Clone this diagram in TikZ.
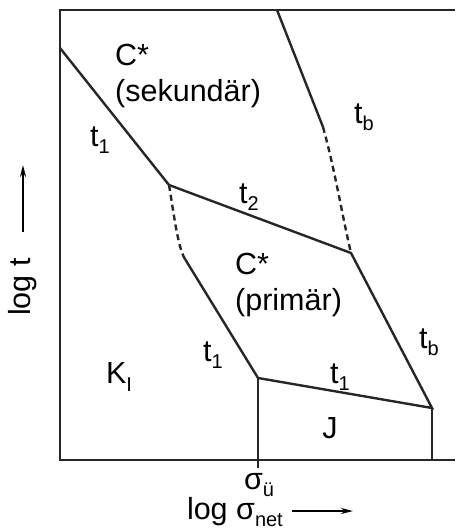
\documentclass[tikz,border=0pt]{standalone}
\usepackage{fontspec}
\setmainfont{Liberation Sans}
\usetikzlibrary{arrows.meta}

\newcommand{\sub}[1]{\raisebox{-0.45ex}{\fontsize{20}{21}\selectfont #1}}

\begin{document}
\begin{tikzpicture}[
  x=1pt, y=-1pt,
  lbl/.style={font=\fontsize{30.5}{36}\selectfont, inner sep=0pt, align=left},
  bd/.style={line width=2.8pt, draw=black!85},
  ln/.style={line width=2.4pt, draw=black!85},
  dsh/.style={line width=2.4pt, draw=black!85, dash pattern=on 6pt off 4pt},
  ax/.style={line width=1.8pt, -{Stealth[length=12pt,width=6pt]}}
]
  \useasboundingbox (0,0) rectangle (455,529);
  % frame
  \coordinate (TL) at (60,10);
  \coordinate (TR) at (455,10);
  \coordinate (BL) at (60,460);
  \coordinate (BR) at (455,460);
  \draw[bd] (TR) -- (TL) -- (BL) -- (BR);

  % corner points
  \coordinate (A) at (60,48);
  \coordinate (B) at (169,185);
  \coordinate (C) at (351,253);
  \coordinate (D) at (185,259);
  \coordinate (E) at (258,378);
  \coordinate (F) at (432,408);
  \coordinate (G) at (277,10);
  \coordinate (H) at (323,127);
  \coordinate (Eb) at (258,468);
  \coordinate (Fb) at (432,460);

  \draw[ln] (A) -- (B) -- (C) -- (F) -- (E) -- (D);
  \draw[ln] (G) -- (H);
  \draw[ln] (E) -- (Eb);
  \draw[ln] (F) -- (Fb);
  \draw[dsh] (B) .. controls (174,215) and (178,248) .. (D);
  \draw[dsh] (H) .. controls (335,170) and (342,215) .. (C);

  % labels
  \node[lbl, anchor=north west] (sek) at (115,44) {C*\\(sekundär)};
  \node[lbl] (t1a) at (100,140) {t\sub{1}};
  \node[lbl] (tba) at (364,117) {t\sub{b}};
  \node[lbl] (t2) at (249,197) {t\sub{2}};
  \node[lbl, anchor=north west] (pri) at (235,253) {C*\\(primär)};
  \node[lbl] (tbb) at (429,342) {t\sub{b}};
  \node[lbl] (t1b) at (213,355) {t\sub{1}};
  \node[lbl] (t1c) at (340,377) {t\sub{1}};
  \node[lbl] (KI) at (119,377) {K\sub{I}};
  \node[lbl] (J) at (330,428) {J};
  \node[lbl] (su) at (259,485) {σ\sub{ü}};

  % axis titles
  \node[lbl, anchor=base east] (xlab) at (283,519) {log σ\sub{net}};
  \coordinate (xa) at (292,511);
  \coordinate (xb) at (353,511);
  \draw[ax] (xa) -- (xb);
  \node[lbl, rotate=90, anchor=west] (ylab) at (23,316) {log t};
  \coordinate (ya) at (23,232);
  \coordinate (yb) at (23,165);
  \draw[ax] (ya) -- (yb);
\end{tikzpicture}
\end{document}
